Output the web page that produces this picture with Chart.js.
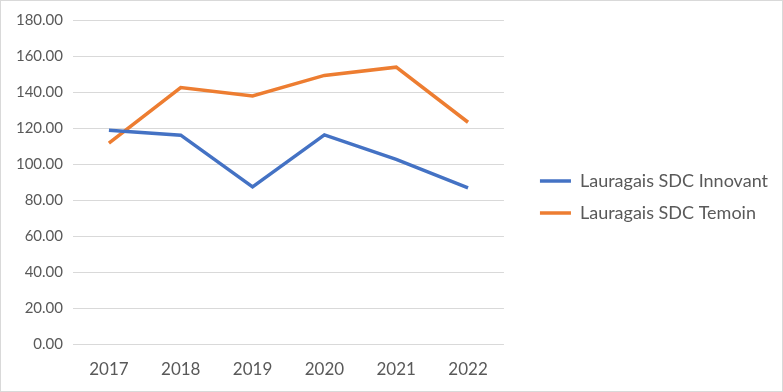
<!DOCTYPE html>
<html>
<head>
<meta charset="utf-8">
<script src="https://cdn.jsdelivr.net/npm/chart.js@4"></script>
<style>
  html, body { margin: 0; padding: 0; background: #fff; }
  #wrap { width: 781px; height: 390px; border: 1px solid #d9d9d9; position: relative; }
</style>
</head>
<body>
<div id="wrap"><canvas id="lineChart"></canvas></div>
<script>
const years = ['2017', '2018', '2019', '2020', '2021', '2022'];
const innovant = [118.8, 116.0, 87.3, 116.2, 102.6, 86.7];
const temoin = [111.6, 142.5, 137.8, 149.2, 153.8, 123.2];

const TEXT_COLOR = '#595959';
const FONT = 'Lato, "Open Sans", sans-serif';
const LEGEND_GAP = 22; // extra space between plot and legend

// legend wider than chart.js allows by default, and a bit away from the plot
const legendShift = {
  id: 'legendShift',
  beforeLayout(chart) {
    const lg = chart.legend;
    if (lg && !lg._patched) {
      const fit = lg.fit.bind(lg);
      lg.fit = function () {
        fit();
        const pad = this.options.labels.padding;
        const cols = (this.columnSizes || []).reduce((a, c) => a + c.width + pad, 0);
        this.width = cols + pad + LEGEND_GAP;
      };
      lg._patched = true;
    }
  },
  afterLayout(chart) {
    const lg = chart.legend;
    lg.left += LEGEND_GAP;
    lg.top -= 7;
    lg.bottom -= 7;
  }
};

new Chart(document.getElementById('lineChart'), {
  type: 'line',
  data: {
    labels: years,
    datasets: [
      {
        label: 'Lauragais SDC Innovant',
        data: innovant,
        borderColor: '#4472C4',
        backgroundColor: '#4472C4',
        borderWidth: 3.5,
        pointRadius: 0,
        tension: 0,
        fill: false
      },
      {
        label: 'Lauragais SDC Temoin',
        data: temoin,
        borderColor: '#ED7D31',
        backgroundColor: '#ED7D31',
        borderWidth: 3.5,
        pointRadius: 0,
        tension: 0,
        fill: false
      }
    ]
  },
  plugins: [legendShift],
  options: {
    responsive: true,
    maintainAspectRatio: false,
    animation: false,
    layout: { padding: { top: 16, right: 0, left: 0, bottom: 0 } },
    plugins: {
      legend: {
        display: true,
        position: 'right',
        align: 'center',
        labels: {
          usePointStyle: true,
          pointStyle: 'line',
          pointStyleWidth: 31,
          padding: 14,
          color: TEXT_COLOR,
          font: { family: FONT, size: 18 }
        }
      },
      tooltip: { enabled: false }
    },
    scales: {
      x: {
        offset: true,
        grid: { display: false, drawTicks: false },
        border: { display: false },
        ticks: { color: TEXT_COLOR, font: { family: FONT, size: 17 }, padding: 15 },
        afterFit: s => { s.height = 47; }
      },
      y: {
        min: 0,
        max: 180,
        grid: { color: '#d9d9d9', lineWidth: 1, drawTicks: false },
        border: { display: false },
        ticks: {
          stepSize: 20,
          color: TEXT_COLOR,
          font: { family: FONT, size: 15 },
          padding: 10,
          callback: v => v.toFixed(2)
        },
        afterFit: s => { s.width = 72; }
      }
    }
  }
});
</script>
</body>
</html>
